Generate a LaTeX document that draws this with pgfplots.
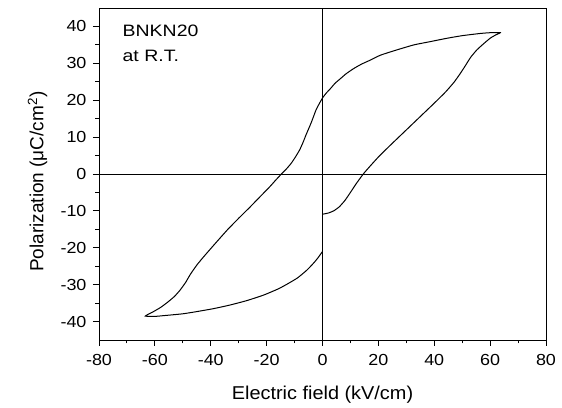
\documentclass[border=0pt]{standalone}
\usepackage{fontspec}
\setmainfont{Liberation Sans}
\newfontfamily\tickfont[FakeStretch=1.12]{Liberation Sans}
\newfontfamily\xlabfont[FakeStretch=1.07]{Liberation Sans}
\newfontfamily\notefont[FakeStretch=1.18]{Liberation Sans}
\usepackage{pgfplots}
\pgfplotsset{compat=1.18}
\begin{document}
\begin{tikzpicture}
\begin{axis}[name=ax,
  scale only axis, width=447pt, height=332pt,
  xmin=-80, xmax=80, ymin=-45, ymax=45,
  xtick={-80,-60,...,80}, ytick={-40,-30,...,40},
  minor x tick num=1, minor y tick num=1,
  tick align=outside, tick pos=left,
  major tick length=6pt, minor tick length=3.5pt,
  axis line style={line width=0.9pt},
  every tick/.style={line width=0.9pt, black},
  /pgf/number format/assume math mode=true,
  ticklabel style={font=\tickfont\fontsize{16}{18}\selectfont},
  xticklabel style={yshift=-5pt},
  yticklabel style={xshift=-3pt},
  xlabel={Electric field (kV/cm)},
  ylabel={Polarization (μC/cm\textsuperscript{2})},
  every axis x label/.style={at={(axis description cs:0.5,0)}, anchor=base, yshift=-60pt, font=\xlabfont\fontsize{18.6}{20}\selectfont},
  every axis y label/.style={at={(axis description cs:0,0.5)}, xshift=-55.7pt, yshift=-7.7pt, rotate=90, anchor=base, font=\fontsize{19}{21}\selectfont},
]
\draw[line width=0.9pt] (axis cs:-80,0) -- (axis cs:80,0);
\draw[line width=0.9pt] (axis cs:0,-45) -- (axis cs:0,45);
\addplot[black, line width=1pt, smooth, tension=0.3] coordinates {
(0,-10.9) (2,-10.6) (4,-10.0) (6,-8.9) (8,-7.2) (10,-5.0) (12,-2.7) (14.6,0)
(17,2.1) (20,4.6) (24,7.6) (28,10.5) (32,13.4) (36,16.3) (40,19.2) (44,22.2)
(47,24.8) (49,26.9) (51,29.2) (53,31.6) (55.2,33.6) (57.5,35.2) (60,36.8) (62,37.7) (63.6,38.3)
(60,38.3) (56.5,38.1) (50,37.5) (44.6,36.8) (38,35.8) (32.7,35.0) (26,33.5) (20.7,32.2)
(17.2,30.9) (14,29.8) (11.2,28.6) (8.5,27.2) (6.5,25.9) (4.5,24.6) (2.9,23.2) (1.3,21.9)
(0,20.6) (-1.2,19.0) (-2.3,17.4) (-3.2,15.6) (-4.1,13.8) (-5.0,12.2) (-5.9,10.6) (-7.0,8.5)
(-8.2,6.5) (-9.7,4.6) (-11.2,2.9) (-13,1.3) (-14.7,0) (-16.8,-1.7) (-18.8,-3.4) (-22.4,-6.2)
(-26,-9.0) (-30,-12.0) (-34,-15.1) (-38,-18.5) (-42.5,-22.4) (-45,-24.7) (-47.3,-27.2)
(-49,-29.4) (-51,-31.5) (-53,-33.2) (-55.5,-34.8) (-58,-36.2) (-60.5,-37.3) (-63.4,-38.5)
(-60,-38.6) (-56.9,-38.4) (-50,-37.9) (-45,-37.3) (-39,-36.5) (-33,-35.5) (-27,-34.3)
(-21,-32.8) (-16,-31.2) (-13,-30.0) (-9,-28.2) (-5.5,-26.0) (-3,-24.0) (-1.5,-22.6) (0,-21)
};
\node[anchor=base west, inner sep=0pt, font=\notefont\fontsize{16.5}{18}\selectfont] at (axis cs:-71.6,37.2) {BNKN20};
\node[anchor=base west, inner sep=0pt, font=\notefont\fontsize{16.5}{18}\selectfont] at (axis cs:-71.6,30.4) {at R.T.};
\end{axis}
\pgfresetboundingbox
\path ([shift={(-99pt,-68pt)}]ax.south west) rectangle ([shift={(16pt,8pt)}]ax.north east);
\end{tikzpicture}
\end{document}
